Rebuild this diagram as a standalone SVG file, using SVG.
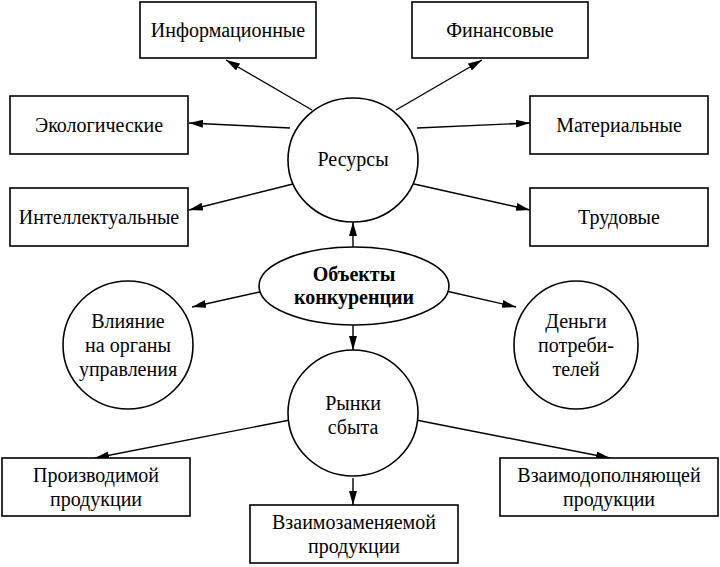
<svg xmlns="http://www.w3.org/2000/svg" width="720" height="567" viewBox="0 0 720 567">
<style>
.n{fill:#fff;stroke:#000;stroke-width:1.6}
text{font-family:"Liberation Serif",serif;font-size:20px;text-anchor:middle;fill:#000}
.c line{stroke:#000;stroke-width:1.4;marker-end:url(#a)}
</style>
<defs><marker id="a" markerWidth="14" markerHeight="8" refX="14" refY="4" orient="auto" markerUnits="userSpaceOnUse"><path d="M0,0L14,4L0,8z"/></marker></defs>
<rect width="720" height="567" fill="#fff"/>
<g class="c">
<line x1="312" y1="110" x2="226" y2="60"/>
<line x1="396" y1="110" x2="482" y2="60"/>
<line x1="290" y1="128" x2="189" y2="123"/>
<line x1="417" y1="128" x2="530" y2="123"/>
<line x1="293" y1="184" x2="189" y2="210"/>
<line x1="414" y1="184" x2="530" y2="210"/>
<line x1="353" y1="247" x2="353" y2="222"/>
<line x1="264" y1="291" x2="192" y2="307"/>
<line x1="446" y1="291" x2="516" y2="307"/>
<line x1="353" y1="325" x2="353" y2="350"/>
<line x1="290" y1="420" x2="95" y2="458"/>
<line x1="353" y1="478" x2="353" y2="505"/>
<line x1="416" y1="420" x2="610" y2="458"/>
</g>
<g id="info"><rect class="n" x="140" y="2" width="176" height="56"/><text x="228" y="37">Информационные</text></g>
<g id="fin"><rect class="n" x="412" y="2" width="176" height="56"/><text x="500" y="37">Финансовые</text></g>
<g id="eco"><rect class="n" x="10" y="96" width="178" height="58"/><text x="99" y="132">Экологические</text></g>
<g id="mat"><rect class="n" x="530" y="96" width="178" height="58"/><text x="619" y="132">Материальные</text></g>
<g id="intel"><rect class="n" x="10" y="188" width="178" height="58"/><text x="99" y="224">Интеллектуальные</text></g>
<g id="trud"><rect class="n" x="530" y="188" width="178" height="58"/><text x="619" y="224">Трудовые</text></g>
<g id="res"><ellipse class="n" cx="353" cy="160" rx="65" ry="62"/><text x="353" y="166">Ресурсы</text></g>
<g id="obj"><ellipse class="n" cx="354" cy="286" rx="95" ry="39" stroke-width="4"/><text x="354" y="281" font-weight="bold">Объекты</text><text x="354" y="304" font-weight="bold">конкуренции</text></g>
<g id="vl"><ellipse class="n" cx="128" cy="345" rx="65" ry="64"/><text x="128" y="328">Влияние</text><text x="128" y="352">на органы</text><text x="128" y="376">управления</text></g>
<g id="den"><ellipse class="n" cx="576" cy="345" rx="62" ry="64"/><text x="576" y="328">Деньги</text><text x="576" y="352">потреби-</text><text x="576" y="376">телей</text></g>
<g id="ryn"><ellipse class="n" cx="353" cy="413" rx="65" ry="63"/><text x="353" y="410">Рынки</text><text x="353" y="434">сбыта</text></g>
<g id="proiz"><rect class="n" x="2" y="458" width="188" height="58"/><text x="96" y="482">Производимой</text><text x="96" y="506">продукции</text></g>
<g id="zam"><rect class="n" x="250" y="505" width="208" height="58"/><text x="354" y="529">Взаимозаменяемой</text><text x="354" y="553">продукции</text></g>
<g id="dop"><rect class="n" x="500" y="458" width="218" height="58"/><text x="609" y="482">Взаимодополняющей</text><text x="609" y="506">продукции</text></g>
</svg>
